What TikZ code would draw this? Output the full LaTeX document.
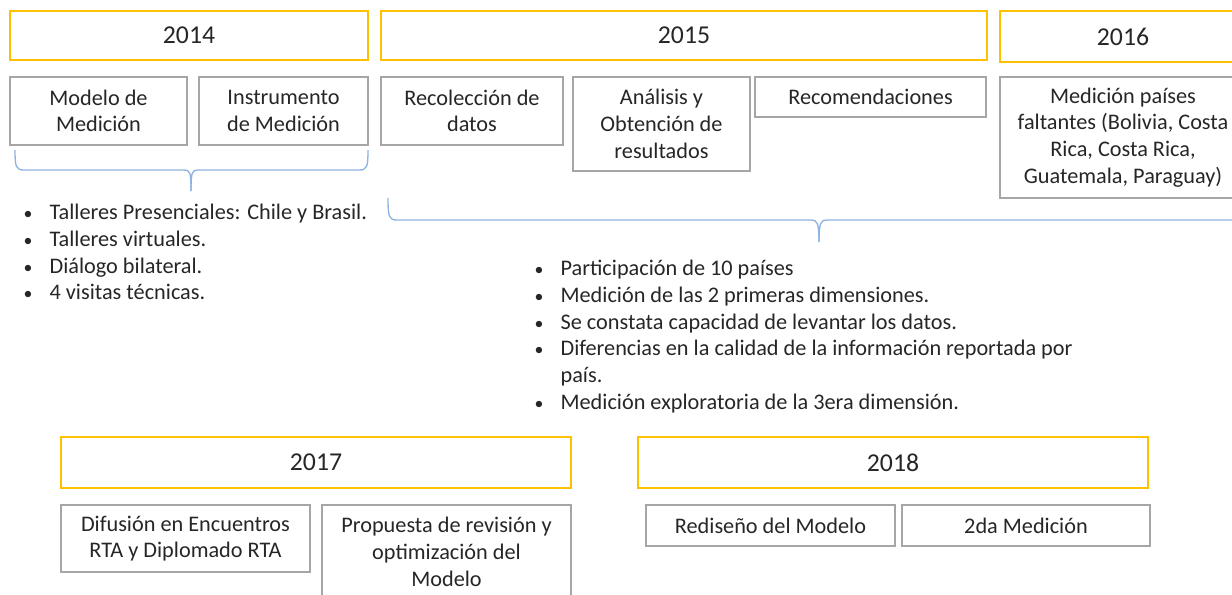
\documentclass[tikz,border=0pt]{standalone}
\usepackage{fontspec}
\setmainfont{Carlito}
\definecolor{yearline}{HTML}{FFC000}
\definecolor{boxline}{HTML}{A6A6A6}
\definecolor{braceline}{HTML}{8DB3E2}
\definecolor{txt}{HTML}{262626}
\newlength\unitpx
\setlength\unitpx{0.75pt}
\newcommand\itemdot{\makebox[20.5pt][l]{\hspace{1pt}\scalebox{0.8}{•}}}

\begin{document}
\begin{tikzpicture}[x=0.75pt,y=-0.75pt,
  yearbox/.style={shape=rectangle,draw=yearline,line width=1.5pt,inner sep=0pt,font=\fontsize{19.3}{23}\selectfont,text=txt},
  actbox/.style={shape=rectangle,draw=boxline,line width=1.5pt,inner sep=0pt,align=center,font=\fontsize{16.7}{20}\selectfont,text=txt},
  notes/.style={inner sep=0pt,anchor=north west,align=left,font=\fontsize{16.7}{20}\selectfont,text=txt},
  bracket/.style={draw=braceline,line width=1pt}]
\useasboundingbox (0,0) rectangle (1232,594);
\clip (0,0) rectangle (1232,594);

\node[yearbox,minimum width=358\unitpx,minimum height=49\unitpx] (y2014) at (189,35.5) {2014};
\node[yearbox,minimum width=606\unitpx,minimum height=49\unitpx] (y2015) at (684,35.5) {2015};
\node[yearbox,minimum width=246\unitpx,minimum height=51\unitpx] (y2016) at (1123,36.5) {2016};
\node[yearbox,minimum width=510\unitpx,minimum height=51\unitpx] (y2017) at (316,462.5) {2017};
\node[yearbox,minimum width=510\unitpx,minimum height=51\unitpx] (y2018) at (893,462.5) {2018};

\node[actbox,minimum width=177\unitpx,minimum height=68\unitpx] (modelo) at (98.5,111) {Modelo de\\Medición};
\node[actbox,minimum width=169\unitpx,minimum height=68\unitpx] (instrumento) at (283.5,111) {Instrumento\\de Medición};
\node[actbox,minimum width=182\unitpx,minimum height=68\unitpx] (recoleccion) at (472,111) {Recolección de\\datos};
\node[actbox,minimum width=177\unitpx,minimum height=94\unitpx] (analisis) at (661.5,124) {Análisis y\\Obtención de\\resultados};
\node[actbox,minimum width=231\unitpx,minimum height=40\unitpx] (recomendaciones) at (870.5,97) {Recomendaciones};
\node[actbox,minimum width=246\unitpx,minimum height=121\unitpx] (faltantes) at (1123,137.5) {Medición países\\faltantes (Bolivia, Costa\\Rica, Costa Rica,\\Guatemala, Paraguay)};
\node[actbox,minimum width=249\unitpx,minimum height=67\unitpx] (difusion) at (185.5,538.5) {Difusión en Encuentros\\RTA y Diplomado RTA};
\node[actbox,minimum width=249\unitpx,minimum height=94\unitpx] (propuesta) at (446.5,552) {Propuesta de revisión y\\optimización del\\Modelo};
\node[actbox,minimum width=249\unitpx,minimum height=41\unitpx] (rediseno) at (770.5,525.5) {Rediseño del Modelo};
\node[actbox,minimum width=248\unitpx,minimum height=41\unitpx] (medicion2) at (1026,525.5) {2da Medición};

\node[notes] (notas2014) at (22,204) {\itemdot Talleres Presenciales: Chile y Brasil.\\\itemdot Talleres virtuales.\\\itemdot Diálogo bilateral.\\\itemdot 4 visitas técnicas.};
\node[notes] (notas2015) at (533,260) {\itemdot Participación de 10 países\\\itemdot Medición de las 2 primeras dimensiones.\\\itemdot Se constata capacidad de levantar los datos.\\\itemdot Diferencias en la calidad de la información reportada por\\\hspace*{20.5pt}país.\\\itemdot Medición exploratoria de la 3era dimensión.};

\draw[bracket] (15,150) .. controls (15,167) and (16,170) .. (24,170) -- (184,170) .. controls (190,170) and (191,172) .. (191,191);
\draw[bracket] (191,191) .. controls (191,172) and (192,170) .. (198,170) -- (359,170) .. controls (367,170) and (368,167) .. (368,150);
\draw[bracket] (388,198) .. controls (388,217) and (389,220) .. (397,220) -- (811,220) .. controls (817,220) and (819,222) .. (819,242);
\draw[bracket] (819,242) .. controls (819,222) and (821,220) .. (827,220) -- (1250,220) .. controls (1258,220) and (1259,217) .. (1259,198);
\end{tikzpicture}
\end{document}
